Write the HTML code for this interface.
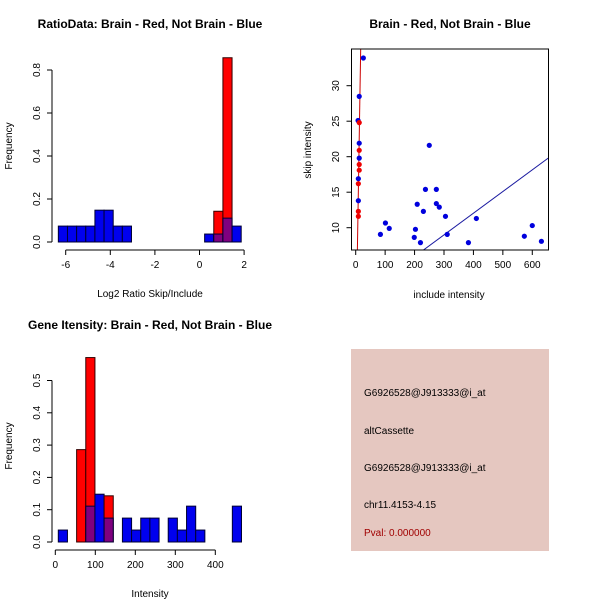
<!DOCTYPE html>
<html><head><meta charset="utf-8"><style>
body{margin:0;background:#fff;width:600px;height:600px;overflow:hidden}
svg{font-family:"Liberation Sans",sans-serif}
</style></head><body>
<svg id="s" width="600" height="600" viewBox="0 0 600 600">
<rect width="600" height="600" fill="#fff"/>
</svg>
<script>
// Panel 1: log2 ratio histogram
const ratioBinStart = -6.33, ratioBinWidth = 0.41;
const ratioBlue = [0.074,0.074,0.074,0.074,0.148,0.148,0.074,0.074,0,0,0,0,0,0,0,0,0.037,0.037,0.111,0.074];
const ratioRed  = [0,0,0,0,0,0,0,0,0,0,0,0,0,0,0,0,0,0.143,0.857,0];
const ratioXTicks = [-6,-4,-2,0,2];
const ratioYTicks = [0.0,0.2,0.4,0.6,0.8];
// Panel 3: intensity histogram
const intBinStart = 7.5, intBinWidth = 22.9;
const intBlue = [0.037,0,0,0.111,0.148,0.074,0,0.074,0.037,0.074,0.074,0,0.074,0.037,0.111,0.037,0,0,0,0.111];
const intRed  = [0,0,0.286,0.571,0,0.143,0,0,0,0,0,0,0,0,0,0,0,0,0,0];
const intXTicks = [0,100,200,300,400];
const intYTicks = [0.0,0.1,0.2,0.3,0.4,0.5];
// Panel 2: scatter
const blueX = [26,12,8,12,12,9,9,250,84,101,114,209,203,199,220,230,237,274,274,284,305,311,383,410,573,600,631];
const blueY = [33.9,28.5,25.1,21.9,19.8,16.9,13.8,21.6,9.06,10.66,9.9,13.3,9.77,8.64,7.9,12.3,15.4,15.4,13.4,12.9,11.6,9.06,7.9,11.3,8.8,10.3,8.08];
const redX = [12,12,12,12,9,9,9];
const redY = [24.8,20.9,18.9,18.1,16.2,12.3,11.6];
const redLine = [5.7,6.85,17,35.3];
const blueLine = [230,6.85,654,19.8];
const scXTicks = [0,100,200,300,400,500,600];
const scYTicks = [10,15,20,25,30];

const NS="http://www.w3.org/2000/svg", svg=document.getElementById('s');
function el(t,a,txt){const e=document.createElementNS(NS,t);for(const k in a)e.setAttribute(k,a[k]);if(txt!==undefined)e.textContent=txt;svg.appendChild(e);return e;}
function txt(x,y,s,opt){opt=opt||{};return el('text',{x:x,y:y,'font-size':opt.fs||10,'text-anchor':opt.anchor||'middle','font-weight':opt.bold?'bold':'normal',fill:opt.fill||'#000',transform:opt.rot?`rotate(-90 ${x} ${y})`:''},s);}

function hist(cfg){
  const xs=v=>cfg.x0+(v-cfg.xv0)*cfg.xk, ys=v=>cfg.y0-v*cfg.yk;
  const n=cfg.blue.length;
  for(let i=0;i<n;i++){
    const a=cfg.bs+i*cfg.bw,b=a+cfg.bw;
    const x1=xs(a),x2=xs(b);
    const bl=cfg.blue[i],rd=cfg.red[i];
    if(rd>0){const r=el('rect',{x:x1,y:ys(rd),width:x2-x1,height:ys(0)-ys(rd),fill:'#ff0000',stroke:'#300',"stroke-width":1});
      
      }
    if(bl>0){const ov=rd>0;const r=el('rect',{x:x1,y:ys(bl),width:x2-x1,height:ys(0)-ys(bl),fill:ov?'#7f007f':'#0000ee',stroke:'#003',"stroke-width":1});
      
      }
  }
  const xt=cfg.xticks;
  el('line',{x1:xs(xt[0]),x2:xs(xt[xt.length-1]),y1:cfg.axY,y2:cfg.axY,stroke:'#000'});
  xt.forEach(t=>{el('line',{x1:xs(t),x2:xs(t),y1:cfg.axY,y2:cfg.axY+5,stroke:'#000'});txt(xs(t),cfg.axY+18,String(t));});
  const yt=cfg.yticks;
  el('line',{x1:cfg.axX,x2:cfg.axX,y1:ys(yt[0]),y2:ys(yt[yt.length-1]),stroke:'#000'});
  yt.forEach(t=>{el('line',{x1:cfg.axX-5,x2:cfg.axX,y1:ys(t),y2:ys(t),stroke:'#000'});txt(cfg.axX-12,ys(t),t.toFixed(1),{rot:1});});
  const ti=txt(cfg.tx,cfg.ty,cfg.title,{bold:1,fs:12});
  const xl=txt(cfg.xlx,cfg.xly,cfg.xlab);
  const yl=txt(12,cfg.yly,'Frequency',{rot:1});
}
hist({x0:65.7,xv0:-6,xk:22.3,y0:242,yk:215,bs:ratioBinStart,bw:ratioBinWidth,blue:ratioBlue,red:ratioRed,
  xticks:ratioXTicks,yticks:ratioYTicks,axY:250,axX:52,title:'RatioData: Brain - Red, Not Brain - Blue',tx:150,ty:28,
  xlab:'Log2 Ratio Skip/Include',xlx:150,xly:297,yly:146});
hist({x0:55.3,xv0:0,xk:0.4,y0:542,yk:323,bs:intBinStart,bw:intBinWidth,blue:intBlue,red:intRed,
  xticks:intXTicks,yticks:intYTicks,axY:550,axX:52,title:'Gene Itensity: Brain - Red, Not Brain - Blue',tx:150,ty:329,
  xlab:'Intensity',xlx:150,xly:597,yly:446});

// scatter
(function(){
  const xs=v=>355.7+v*0.2943, ys=v=>227.7-(v-10)*7.1;
  const box=el('rect',{x:351.5,y:49,width:197,height:201,fill:'none',stroke:'#000'});
  
  const cp=el('clipPath',{id:'cp'});const cr=document.createElementNS(NS,'rect');
  cr.setAttribute('x',352);cr.setAttribute('y',49.5);cr.setAttribute('width',196);cr.setAttribute('height',200);cp.appendChild(cr);
  scXTicks.forEach(t=>{el('line',{x1:xs(t),x2:xs(t),y1:250,y2:255,stroke:'#000'});txt(xs(t),268,String(t));});
  el('line',{x1:xs(0),x2:xs(600),y1:250,y2:250,stroke:'#000'});
  scYTicks.forEach(t=>{el('line',{x1:346.5,x2:351.5,y1:ys(t),y2:ys(t),stroke:'#000'});txt(339,ys(t),String(t),{rot:1});});
  const rl=el('line',{x1:xs(redLine[0]),y1:ys(redLine[1]),x2:xs(redLine[2]),y2:ys(redLine[3]),stroke:'#cc0000','stroke-width':1,'clip-path':'url(#cp)'});
  
  const bL=el('line',{x1:xs(blueLine[0]),y1:ys(blueLine[1]),x2:xs(blueLine[2]),y2:ys(blueLine[3]),stroke:'#1a1aa0','stroke-width':1,'clip-path':'url(#cp)'});
  
  blueX.forEach((v,i)=>{const c=el('circle',{cx:xs(v),cy:ys(blueY[i]),r:2.6,fill:'#0000dd'});
    });
  redX.forEach((v,i)=>{const c=el('circle',{cx:xs(v),cy:ys(redY[i]),r:2.6,fill:'#ee0000'});
    });
  const t=txt(450,28,'Brain - Red, Not Brain - Blue',{bold:1,fs:12});
  const xl=txt(449,298,'include intensity');
  const yl=txt(311,150,'skip intensity',{rot:1});
})();

// info panel
(function(){
  const p=el('rect',{x:351,y:349,width:198,height:202,fill:'#e5c7c0'});
  
  const lines=[['G6926528@J913333@i_at',396,'#000','probe-id'],['altCassette',434,'#000','event-type'],['G6926528@J913333@i_at',471,'#000','gene-id'],['chr11.4153-4.15',508,'#000','location'],['Pval: 0.000000',536,'#a00000','pvalue']];
  lines.forEach(l=>{const t=txt(364,l[1],l[0],{anchor:'start',fill:l[2]});});
})();
</script>
</body></html>
